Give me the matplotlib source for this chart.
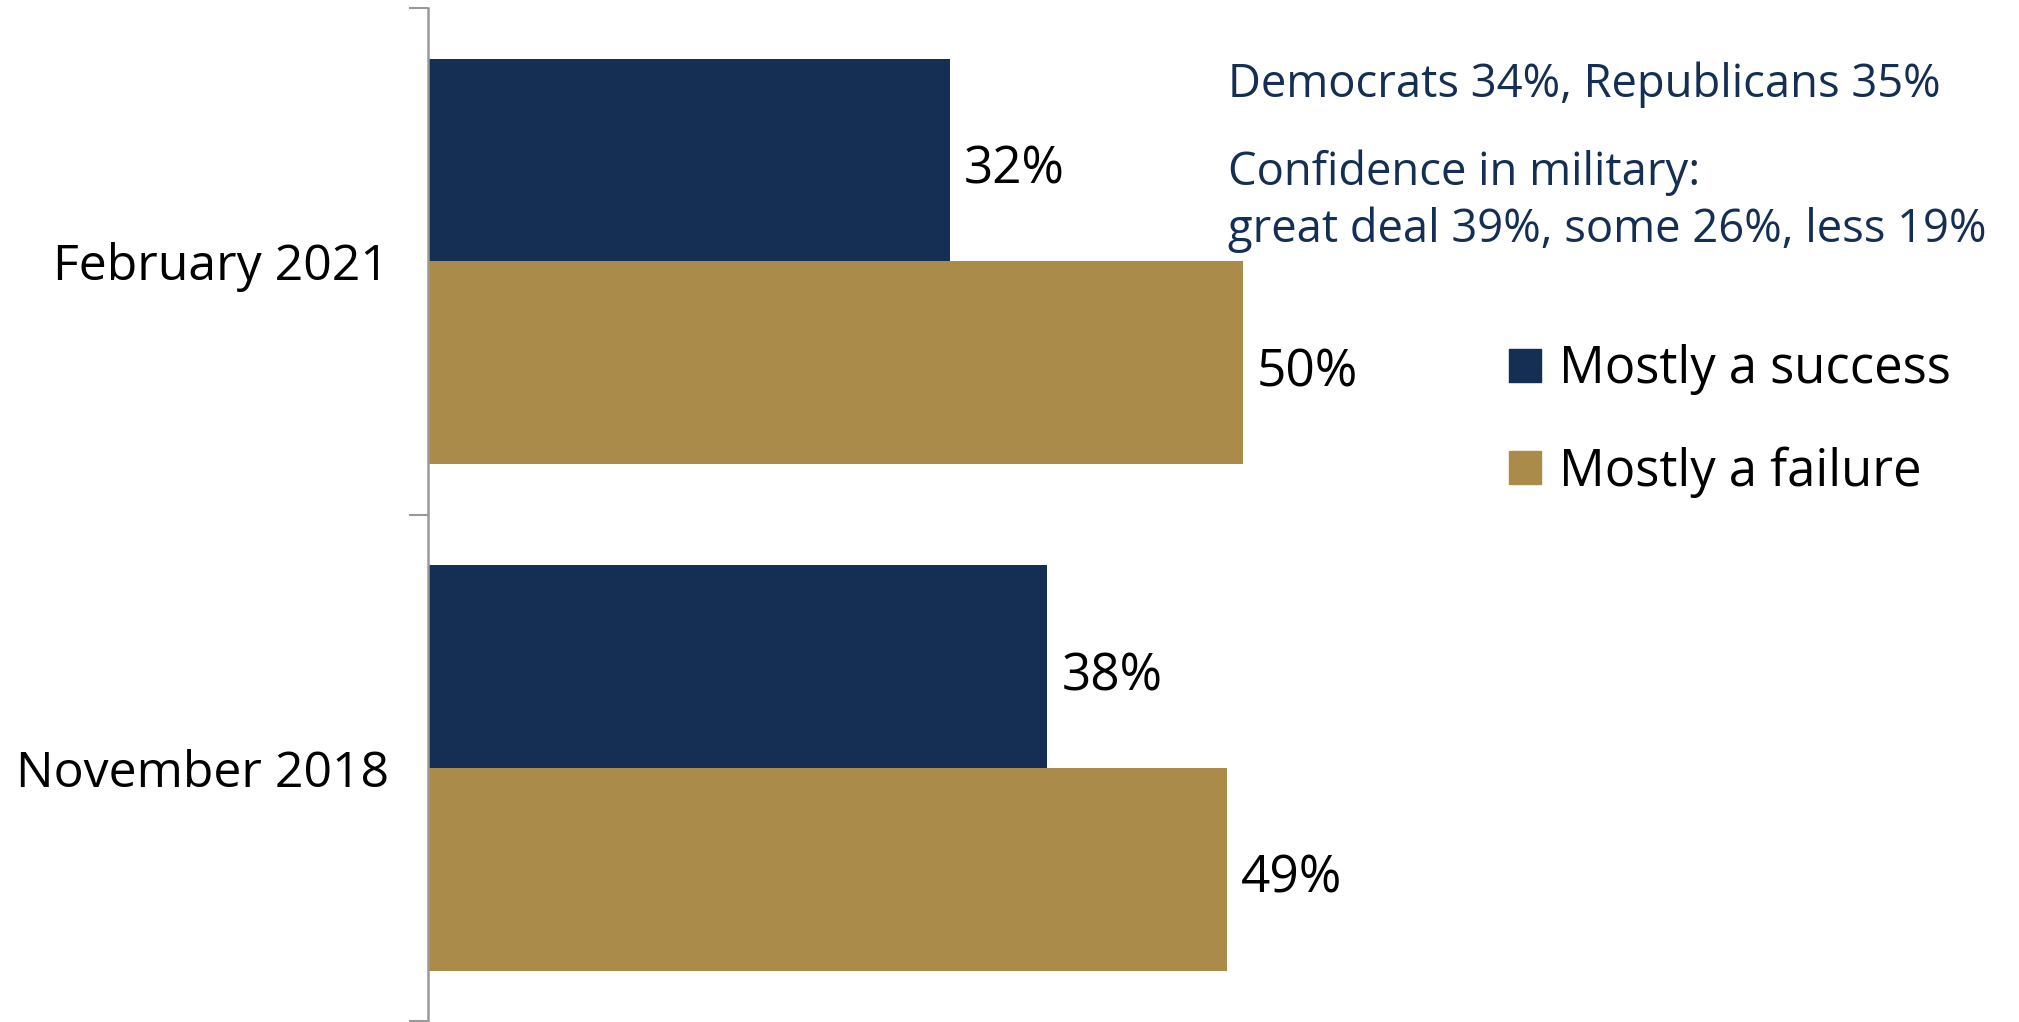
import matplotlib
matplotlib.use("Agg")
import matplotlib.pyplot as plt
from matplotlib.patches import Patch

plt.rcParams['font.family'] = ['Open Sans', 'DejaVu Sans']

# data
periods = ["November 2018", "February 2021"]
success = [38, 32]
failure = [49, 50]
series_names = ["Mostly a success", "Mostly a failure"]
note1 = "Democrats 34%, Republicans 35%"
note2 = "Confidence in military:\ngreat deal 39%, some 26%, less 19%"

navy = "#142f53"
gold = "#aa8b4a"

fig = plt.figure(figsize=(20.19, 10.22), dpi=100)
ax = fig.add_axes([428/2019, 0.0005, 1 - 428/2019, 1 - 8/1022 - 0.0005])

ypos = list(range(len(periods)))
ax.barh([y + 0.2 for y in ypos], success, height=0.4, color=navy)
ax.barh([y - 0.2 for y in ypos], failure, height=0.4, color=gold)

for y, s, f in zip(ypos, success, failure):
    ax.annotate(f"{s}%", (s, y + 0.2), xytext=(14, -10), textcoords="offset pixels",
                va="center", ha="left", fontsize=37, color="black")
    ax.annotate(f"{f}%", (f, y - 0.2), xytext=(14, -10), textcoords="offset pixels",
                va="center", ha="left", fontsize=37, color="black")

ax.set_xlim(0, 97.6)
ax.set_ylim(-0.5, 1.5)
ax.set_xticks([])
ax.set_yticks(ypos)
ax.set_yticklabels(periods, fontsize=36)
ax.tick_params(axis="y", which="major", length=0, pad=28)
ax.set_yticks([-0.5, 0.5, 1.5], minor=True)
ax.tick_params(axis="y", which="minor", length=14, width=1.5, color="#999999")
for side in ["top", "right", "bottom"]:
    ax.spines[side].set_visible(False)
ax.spines["left"].set_color("#999999")
ax.spines["left"].set_linewidth(1.8)

fig.text(1228/2019, 1 - 85/1022, note1, fontsize=32.7, color=navy, va="center", ha="left")
fig.text(1228/2019, 1 - 201/1022, note2, fontsize=32.7, color=navy, va="center", ha="left",
         linespacing=1.3)

handles = [Patch(color=navy), Patch(color=gold)]
leg = fig.legend(handles, series_names, loc="center left", bbox_to_anchor=(1509/2019, 1 - 421/1022),
                 frameon=False, fontsize=36.5, handlelength=0.63, handleheight=0.63,
                 handletextpad=0.36, labelspacing=1.0, borderpad=0, borderaxespad=0)

fig.savefig("out.png", dpi=100)
